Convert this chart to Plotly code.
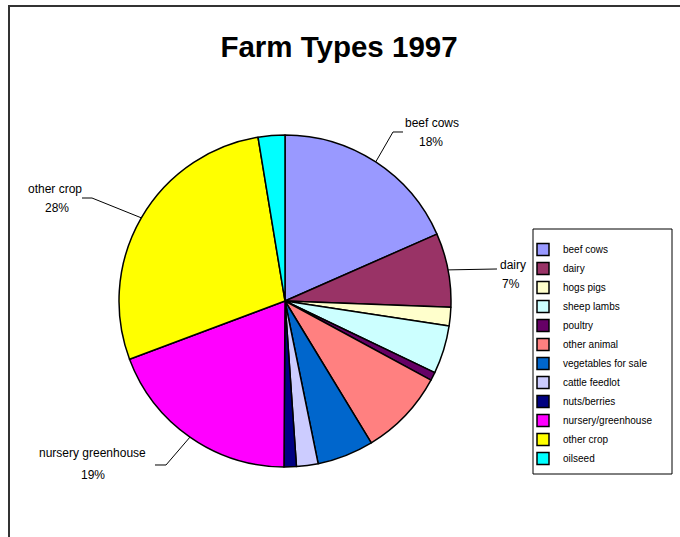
import math
import plotly.graph_objects as go

# ---- data ----
categories = ["beef cows", "dairy", "hogs pigs", "sheep lambs", "poultry",
              "other animal", "vegetables for sale", "cattle feedlot",
              "nuts/berries", "nursery/greenhouse", "other crop", "oilseed"]
shares = [18.4, 7.2, 1.8, 4.7, 0.8, 8.4, 5.5, 2.1, 1.2, 19.2, 28.1, 2.6]
colors = ["#9999FF", "#993366", "#FFFFCC", "#CCFFFF", "#660066", "#FF8080",
          "#0066CC", "#CCCCFF", "#000080", "#FF00FF", "#FFFF00", "#00FFFF"]
# callout labels shown on the pie (category -> text)
callouts = {"beef cows": "beef cows", "dairy": "dairy",
            "nursery/greenhouse": "nursery greenhouse", "other crop": "other crop"}

W, H = 680, 537
CX, CY, R = 285, 301, 166
FONT = "Arial, Liberation Sans, sans-serif"


def px(x):
    return x / W


def py(y):
    return 1 - y / H


fig = go.Figure()
fig.add_trace(go.Pie(
    labels=categories, values=shares, sort=False, direction="clockwise",
    rotation=0, textinfo="none", hoverinfo="label+percent",
    marker=dict(colors=colors, line=dict(color="black", width=1.5)),
    domain=dict(x=[px(CX - R), px(CX + R)], y=[py(CY + R), py(CY - R)]),
))

total = sum(shares)
cum = 0
mids = {}
for c, v in zip(categories, shares):
    mids[c] = (cum + v / 2) / total * 2 * math.pi
    cum += v
pcts = {c: f"{round(v / total * 100)}%" for c, v in zip(categories, shares)}

# label layout: (elbow points in px, name pos, pct pos)
label_layout = {
    "beef cows": dict(path=[(393, 132), (403, 132)], name=(432, 123), pct=(431, 142)),
    "dairy": dict(path=[(497, 269)], name=(513, 265), pct=(511, 284)),
    "other crop": dict(path=[(92, 198), (82, 198)], name=(55, 189), pct=(57, 208)),
    "nursery/greenhouse": dict(path=[(166, 465), (155, 465)], name=(92, 453), pct=(93, 475)),
}

shapes = []
annotations = []
for cat, lay in label_layout.items():
    a = mids[cat]
    ex, ey = CX + R * math.sin(a), CY - R * math.cos(a)
    pts = [(ex, ey)] + lay["path"]
    path = "M " + " L ".join(f"{px(x):.5f},{py(y):.5f}" for x, y in pts)
    shapes.append(dict(type="path", xref="paper", yref="paper", path=path,
                       line=dict(color="black", width=1)))
    for key, txt in (("name", callouts[cat]), ("pct", pcts[cat])):
        annotations.append(dict(x=px(lay[key][0]), y=py(lay[key][1]), xref="paper", yref="paper",
                                text=txt, showarrow=False, xanchor="center", yanchor="middle",
                                font=dict(family=FONT, size=12, color="black")))

# outer chart frame
shapes.append(dict(type="rect", xref="paper", yref="paper", x0=px(9), x1=1.2,
                   y0=-0.2, y1=py(6), line=dict(color="#333333", width=2)))
# legend box
shapes.append(dict(type="rect", xref="paper", yref="paper", x0=px(533), x1=px(672),
                   y0=py(474), y1=py(229), line=dict(color="black", width=1)))

fig.update_layout(
    width=W, height=H, margin=dict(l=0, r=0, t=0, b=0),
    paper_bgcolor="white", plot_bgcolor="white",
    title=dict(text="<b>Farm Types 1997</b>", x=px(339), xanchor="center", y=py(47), yanchor="middle",
               font=dict(family=FONT, size=29.5, color="black")),
    legend=dict(x=px(523), y=py(235), xanchor="left", yanchor="top",
                borderwidth=0, bgcolor="rgba(0,0,0,0)",
                font=dict(family=FONT, size=10, color="black"),
                itemclick=False),
    shapes=shapes, annotations=annotations, showlegend=True,
)

fig.write_html("out.html", config={"displayModeBar": False},
               post_script="document.body.style.margin='0';")
